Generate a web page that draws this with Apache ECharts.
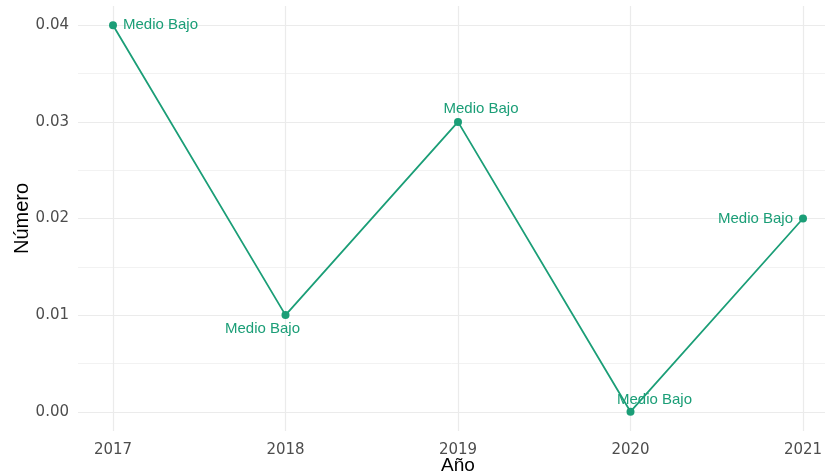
<!DOCTYPE html>
<html>
<head>
<meta charset="utf-8">
<script src="https://cdn.jsdelivr.net/npm/echarts@6/dist/echarts.min.js"></script>
<style>html,body{margin:0;padding:0;background:#fff}#chart{width:825px;height:474px}</style>
</head>
<body>
<div id="chart"></div>
<script>
// Yearly values for the "Medio Bajo" level
const years = ['2017', '2018', '2019', '2020', '2021'];
const values = [0.04, 0.01, 0.03, 0.00, 0.02];
const pointLabels = ['Medio Bajo', 'Medio Bajo', 'Medio Bajo', 'Medio Bajo', 'Medio Bajo'];
const yTicks = [0, 0.01, 0.02, 0.03, 0.04];

const green = '#1b9e77';
const gridColor = '#ebebeb';
const tickFont = 'DejaVu Sans, Verdana, sans-serif';
const textFont = 'Liberation Sans, Arial, sans-serif';

// label placement per point, nudged off the line
const labelPlacement = [
  { position: 'right', distance: 6 },
  { position: 'inside', offset: [-23, 14] },
  { position: 'inside', offset: [23, -13] },
  { position: 'inside', offset: [24, -12] },
  { position: 'left', distance: 6 }
];

const chart = echarts.init(document.getElementById('chart'));
chart.setOption({
  animation: false,
  textStyle: { fontFamily: textFont },
  grid: [
    // panel holding horizontal grid lines and y labels
    { left: 78, right: 0, top: 25, bottom: 62, containLabel: false, outerBoundsMode: 'none' },
    // data panel holding vertical grid lines and the series
    { left: 113, right: 22, top: 6, bottom: 43, containLabel: false, outerBoundsMode: 'none' }
  ],
  xAxis: [
    { gridIndex: 0, type: 'value', min: 0, max: 1, show: false },
    {
      gridIndex: 1, type: 'category', data: years, boundaryGap: false,
      axisLine: { show: false }, axisTick: { show: false },
      axisLabel: { color: '#4d4d4d', fontSize: 15, margin: 12, fontFamily: tickFont },
      splitLine: { show: true, lineStyle: { color: gridColor, width: 1.2 } },
      name: 'Año', nameLocation: 'middle', nameGap: 25, nameMoveOverlap: false,
      nameTextStyle: { color: '#000', fontSize: 19, fontFamily: textFont, verticalAlign: 'top' }
    }
  ],
  yAxis: [
    {
      gridIndex: 0, type: 'value', min: 0, max: 0.04, interval: 0.01,
      axisLine: { show: false }, axisTick: { show: false },
      axisLabel: {
        color: '#4d4d4d', fontSize: 15, margin: 9, fontFamily: tickFont,
        customValues: yTicks,
        formatter: v => v.toFixed(2)
      },
      splitLine: { show: true, lineStyle: { color: gridColor, width: 1.2 } },
      minorTick: { show: false, splitNumber: 2 },
      minorSplitLine: { show: true, lineStyle: { color: '#f2f2f2', width: 1 } },
      name: 'Número', nameLocation: 'middle', nameGap: 46, nameRotate: 90, nameMoveOverlap: false,
      nameTextStyle: { color: '#000', fontSize: 20, fontFamily: textFont }
    },
    {
      gridIndex: 1, type: 'value', min: -0.002, max: 0.042, interval: 0.002,
      show: false, splitLine: { show: false }
    }
  ],
  series: [{
    type: 'line',
    xAxisIndex: 1, yAxisIndex: 1,
    data: values.map((v, i) => ({
      value: v,
      label: Object.assign({ show: true, formatter: pointLabels[i] }, labelPlacement[i])
    })),
    symbol: 'circle', symbolSize: 8,
    itemStyle: { color: green },
    lineStyle: { color: green, width: 1.8 },
    label: { color: green, fontSize: 15, fontFamily: textFont }
  }]
});
</script>
</body>
</html>
